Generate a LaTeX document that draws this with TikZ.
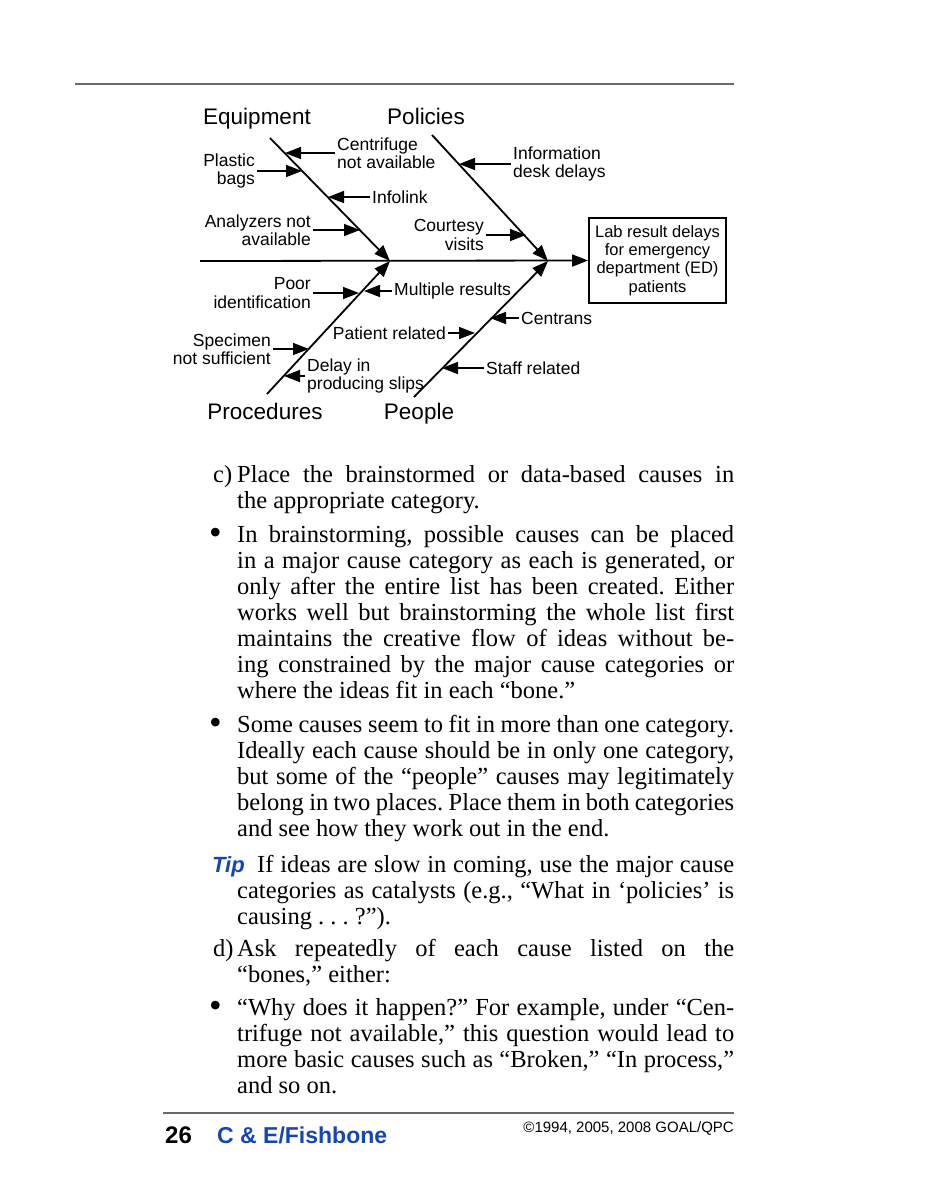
\documentclass[tikz,border=0pt]{standalone}
\usepackage{fontspec}
\setmainfont{Liberation Serif}
\newfontfamily\diagfont{Liberation Sans}
\usetikzlibrary{arrows.meta,positioning}
\definecolor{accent}{HTML}{1446B4}
\definecolor{rulegray}{HTML}{6A6A6A}
\newcommand{\fullline}[1]{\makebox[497pt][s]{#1}}
\frenchspacing

\begin{document}
\begin{tikzpicture}[x=1pt,y=-1pt,
    cat/.style={font=\diagfont\fontsize{22.5}{24}\selectfont,anchor=base,inner sep=0pt},
    cause/.style={font=\diagfont\fontsize{17.5}{18.5}\selectfont,inner sep=2pt},
    bone/.style={line width=1.8pt,-{Triangle[length=16pt,width=12pt]}},
    arrow/.style={line width=1.5pt,-{Triangle[length=16pt,width=12pt]}},
    effectbox/.style={draw,line width=1.8pt,minimum width=137pt,minimum height=85pt,align=center,inner sep=0pt,font=\diagfont\fontsize{16.5}{18.3}\selectfont},
    bodyline/.style={anchor=base west,inner sep=0pt,font=\fontsize{24.5}{26}\selectfont},
    bulletmark/.style={anchor=base west,inner sep=0pt,font=\fontsize{36}{36}\selectfont,yshift=-2pt},
    rule/.style={draw=rulegray,line width=1.3pt}
  ]
    \useasboundingbox (0,0) rectangle (927,1200);
    \draw[rule] (75,84) -- (734,84);

    % fishbone
    \node[effectbox] (effect) at (657.5,260.5) {Lab result delays\\for emergency\\department (ED)\\patients};
    \node[cat] (equip) at (257,124) {Equipment};
    \node[cat] (policy) at (426,124) {Policies};
    \node[cat] (proc) at (265,419) {Procedures};
    \node[cat] (people) at (419,419) {People};

    \coordinate (tail) at (200,261);
    \coordinate (joinL) at (390,261);
    \coordinate (joinR) at (548,261);
    \coordinate (eqTop) at (270,138);
    \coordinate (poTop) at (432,135);
    \coordinate (prBot) at (267,394);
    \coordinate (peBot) at (414,397);

    \draw[bone] (tail) -- (effect.west);
    \draw[bone] (eqTop) -- (joinL);
    \draw[bone] (prBot) -- (joinL);
    \draw[bone] (poTop) -- (joinR);
    \draw[bone] (peBot) -- (joinR);

    \node[cause,anchor=west,align=left] (centrifuge) at (335,153) {Centrifuge\\not available};
    \node[cause,anchor=east,align=right] (plastic) at (257,171) {Plastic\\bags};
    \node[cause,anchor=west] (infolink) at (370,197) {Infolink};
    \node[cause,anchor=east,align=right] (analyzers) at (313,230) {Analyzers not\\available};
    \node[cause,anchor=west,align=left] (infodesk) at (511,164) {Information\\desk delays};
    \node[cause,anchor=east,align=right] (courtesy) at (486,235) {Courtesy\\visits};
    \node[cause,anchor=east,align=right] (poor) at (313,293) {Poor\\identification};
    \node[cause,anchor=west] (multiple) at (392,291) {Multiple results};
    \node[cause,anchor=east,align=right] (specimen) at (273,349) {Specimen\\not sufficient};
    \node[cause,anchor=west,align=left] (delay) at (305,376) {Delay in\\producing slips};
    \node[cause,anchor=east] (patient) at (448,333) {Patient related};
    \node[cause,anchor=west] (centrans) at (519,318) {Centrans};
    \node[cause,anchor=west] (staff) at (484,368) {Staff related};

    \coordinate (tCentrifuge) at (285,153);
    \coordinate (tPlastic) at (302,171);
    \coordinate (tInfolink) at (328,197);
    \coordinate (tAnalyzers) at (360,230);
    \coordinate (tInfodesk) at (459,164);
    \coordinate (tCourtesy) at (526,235);
    \coordinate (tPoor) at (359,293);
    \coordinate (tMultiple) at (364,291);
    \coordinate (tSpecimen) at (309,349);
    \coordinate (tDelay) at (284,376);
    \coordinate (tPatient) at (475,333);
    \coordinate (tCentrans) at (490,318);
    \coordinate (tStaff) at (442,368);

    \draw[arrow] (centrifuge.west) -- (tCentrifuge);
    \draw[arrow] (plastic.east) -- (tPlastic);
    \draw[arrow] (infolink.west) -- (tInfolink);
    \draw[arrow] (analyzers.east) -- (tAnalyzers);
    \draw[arrow] (infodesk.west) -- (tInfodesk);
    \draw[arrow] (courtesy.east) -- (tCourtesy);
    \draw[arrow] (poor.east) -- (tPoor);
    \draw[arrow] (multiple.west) -- (tMultiple);
    \draw[arrow] (specimen.east) -- (tSpecimen);
    \draw[arrow] (delay.west) -- (tDelay);
    \draw[arrow] (patient.east) -- (tPatient);
    \draw[arrow] (centrans.west) -- (tCentrans);
    \draw[arrow] (staff.west) -- (tStaff);

    % text
    \node[bodyline] (clabel) at (213,482) {c)};
    \node[bodyline] (c1) at (237,482) {\fullline{Place the brainstormed or data-based causes in}};
    \node[bodyline] (c2) at (237,508) {the appropriate category.};

    \node[bulletmark] (bul1) at (209,542) {•};
    \node[bodyline] (b1) at (237,542) {\fullline{In brainstorming, possible causes can be placed}};
    \node[bodyline] (b2) at (237,568) {\fullline{in a major cause category as each is generated, or}};
    \node[bodyline] (b3) at (237,594) {\fullline{only after the entire list has been created. Either}};
    \node[bodyline] (b4) at (237,620) {\fullline{works well but brainstorming the whole list first}};
    \node[bodyline] (b5) at (237,646) {\fullline{maintains the creative flow of ideas without be-}};
    \node[bodyline] (b6) at (237,672) {\fullline{ing constrained by the major cause categories or}};
    \node[bodyline] (b7) at (237,698) {where the ideas fit in each “bone.”};

    \node[bulletmark] (bul2) at (209,732) {•};
    \node[bodyline] (s1) at (237,732) {\fullline{Some causes seem to fit in more than one category.}};
    \node[bodyline] (s2) at (237,758) {\fullline{Ideally each cause should be in only one category,}};
    \node[bodyline] (s3) at (237,784) {\fullline{but some of the “people” causes may legitimately}};
    \node[bodyline] (s4) at (237,810) {\fullline{belong in two places. Place them in both categories}};
    \node[bodyline] (s5) at (237,836) {and see how they work out in the end.};

    \node[bodyline,font=\diagfont\bfseries\itshape\fontsize{22}{24}\selectfont,text=accent] (tiplabel) at (212,872) {Tip};
    \node[bodyline] (tip1) at (257,872) {\makebox[477pt][s]{If ideas are slow in coming, use the major cause}};
    \node[bodyline] (tip2) at (237,898) {\fullline{categories as catalysts (e.g., “What in ‘policies’ is}};
    \node[bodyline] (tip3) at (237,924) {causing . . . ?”).};

    \node[bodyline] (dlabel) at (213,956) {d)};
    \node[bodyline] (d1) at (237,956) {\fullline{Ask repeatedly of each cause listed on the}};
    \node[bodyline] (d2) at (237,982) {“bones,” either:};

    \node[bulletmark] (bul3) at (209,1015) {•};
    \node[bodyline] (w1) at (237,1015) {\fullline{“Why does it happen?” For example, under “Cen-}};
    \node[bodyline] (w2) at (237,1041) {\fullline{trifuge not available,” this question would lead to}};
    \node[bodyline] (w3) at (237,1067) {\fullline{more basic causes such as “Broken,” “In process,”}};
    \node[bodyline] (w4) at (237,1093) {and so on.};

    % footer
    \draw[rule] (163,1113) -- (734,1113);
    \node[bodyline,font=\diagfont\bfseries\fontsize{24}{26}\selectfont] (pagenum) at (165,1143) {26};
    \node[bodyline,font=\diagfont\bfseries\fontsize{23}{26}\selectfont,text=accent] (runhead) at (217,1143) {C \& E/Fishbone};
    \node[anchor=base east,inner sep=0pt,font=\diagfont\fontsize{15}{16}\selectfont] (copyr) at (734,1132) {©1994, 2005, 2008 GOAL/QPC};
  \end{tikzpicture}
\end{document}
